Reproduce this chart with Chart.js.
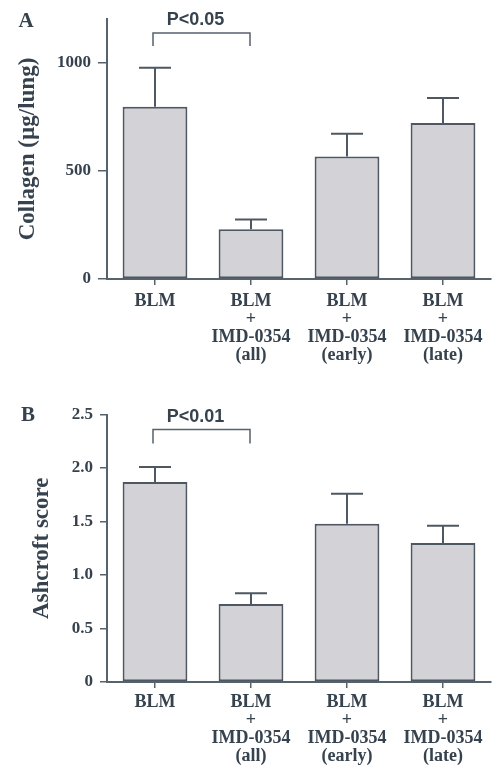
<!DOCTYPE html>
<html><head><meta charset="utf-8">
<script src="https://cdn.jsdelivr.net/npm/chart.js@4"></script>
<style>
html,body{margin:0;padding:0;background:#fff;}
#wrap{position:relative;width:496px;height:779px;overflow:hidden;}
.pane{position:absolute;left:0;width:496px;}
</style></head><body>
<div id="wrap">
<div class="pane" style="top:0;height:390px"><canvas id="cA" width="496" height="390"></canvas></div>
<div class="pane" style="top:390px;height:389px"><canvas id="cB" width="496" height="389"></canvas></div>
</div>
<script>
// ---- data ----
const categories = [
  ['BLM'],
  ['BLM', '+', 'IMD-0354', '(all)'],
  ['BLM', '+', 'IMD-0354', '(early)'],
  ['BLM', '+', 'IMD-0354', '(late)']
];
const collagenMean = [795, 230, 565, 720];
const collagenSem  = [180, 45, 105, 115];
const collagenTicks = [0, 500, 1000];
const ashcroftMean = [1.87, 0.73, 1.48, 1.30];
const ashcroftSem  = [0.14, 0.10, 0.28, 0.16];
const ashcroftTicks = [0, 0.5, 1.0, 1.5, 2.0, 2.5];
const pLabelA = 'P<0.05';
const pLabelB = 'P<0.01';
const bracketA = [0, 1, 1135, 1075, 1195];   // from, to, top value, leg end value, text value
const bracketB = [0, 1, 2.36, 2.23, 2.48];

// ---- style ----
const TEXT = '#36424e';
const AXIS = '#56626c';
const BAR_FILL = '#d3d3d7';
const BAR_EDGE = '#4d5862';
const SERIF = '"Liberation Serif", "Times New Roman", serif';
const SANS = '"Liberation Sans", Arial, sans-serif';

function annotPlugin(means, sems, br, pLabel, letter, letterPos) {
  return {
    id: 'annot',
    afterDatasetsDraw(chart) {
      const {ctx, scales: {x, y}} = chart;
      ctx.save();
      ctx.strokeStyle = BAR_EDGE;
      ctx.lineWidth = 2;
      means.forEach((m, i) => {
        const cx = x.getPixelForValue(i);
        const y0 = y.getPixelForValue(m);
        const y1 = y.getPixelForValue(m + sems[i]);
        ctx.beginPath();
        ctx.moveTo(cx, y0); ctx.lineTo(cx, y1);
        ctx.moveTo(cx - 16, y1); ctx.lineTo(cx + 16, y1);
        ctx.stroke();
      });
      // bracket
      const xa = x.getPixelForValue(br[0]) - 2;
      const xb = x.getPixelForValue(br[1]) - 1;
      const yt = y.getPixelForValue(br[2]);
      const ye = y.getPixelForValue(br[3]);
      ctx.strokeStyle = AXIS;
      ctx.lineWidth = 1.5;
      ctx.beginPath();
      ctx.moveTo(xa, ye); ctx.lineTo(xa, yt); ctx.lineTo(xb, yt); ctx.lineTo(xb, ye);
      ctx.stroke();
      ctx.fillStyle = TEXT;
      ctx.font = 'bold 18px ' + SANS;
      ctx.textAlign = 'center';
      ctx.textBaseline = 'middle';
      ctx.fillText(pLabel, (xa + xb) / 2 - 6, y.getPixelForValue(br[4]));
      // panel letter
      ctx.font = 'bold 21px ' + SERIF;
      ctx.fillText(letter, letterPos[0], letterPos[1]);
      ctx.restore();
    }
  };
}

function makeChart(id, means, sems, ticks, yMax, title, titlePad, top, xHeight, yTickLen, xLabelPad, fmt, br, pLabel, letter, letterPos) {
  return new Chart(document.getElementById(id), {
    type: 'bar',
    data: {
      labels: categories,
      datasets: [{
        data: means,
        backgroundColor: BAR_FILL,
        borderColor: BAR_EDGE,
        borderWidth: 2,
        borderSkipped: false,
        barPercentage: 0.675,
        categoryPercentage: 1.0
      }]
    },
    options: {
      responsive: false,
      animation: false,
      events: [],
      layout: {padding: {top: top, right: 5, left: 0, bottom: 0}},
      plugins: {legend: {display: false}, tooltip: {enabled: false}},
      scales: {
        x: {
          grid: {display: true, drawOnChartArea: false, drawTicks: true, tickLength: 6, offset: false, color: AXIS, lineWidth: 1.5},
          border: {display: true, color: AXIS, width: 2},
          ticks: {color: TEXT, font: {family: SERIF, size: 18, weight: 'bold', lineHeight: 1.0}, padding: xLabelPad, maxRotation: 0, autoSkip: false},
          afterFit(s) { s.height = xHeight; }
        },
        y: {
          min: 0, max: yMax,
          grid: {display: true, drawOnChartArea: false, drawTicks: true, tickLength: yTickLen, color: AXIS, lineWidth: 1.5},
          border: {display: true, color: AXIS, width: 2},
          ticks: {color: TEXT, font: {family: SERIF, size: 17, weight: 'bold'}, padding: 7, callback: fmt},
          afterBuildTicks(s) { s.ticks = ticks.map(v => ({value: v})); },
          title: {display: true, text: title, color: TEXT, font: {family: SERIF, size: 23, weight: 'bold'}, padding: {top: titlePad, bottom: 0}},
          afterFit(s) { s.width = 107; }
        }
      }
    },
    plugins: [annotPlugin(means, sems, br, pLabel, letter, letterPos)]
  });
}

makeChart('cA', collagenMean, collagenSem, collagenTicks, 1200, 'Collagen (\u00b5g/lung)', 14, 19, 111, 9, 7,
  v => String(v), bracketA, pLabelA, 'A', [26, 22]);
makeChart('cB', ashcroftMean, ashcroftSem, ashcroftTicks, 2.5, 'Ashcroft score', 28, 24.5, 97, 7, 5,
  v => (v === 0 ? '0' : v.toFixed(1)), bracketB, pLabelB, 'B', [28, 26]);
</script>
</body></html>
